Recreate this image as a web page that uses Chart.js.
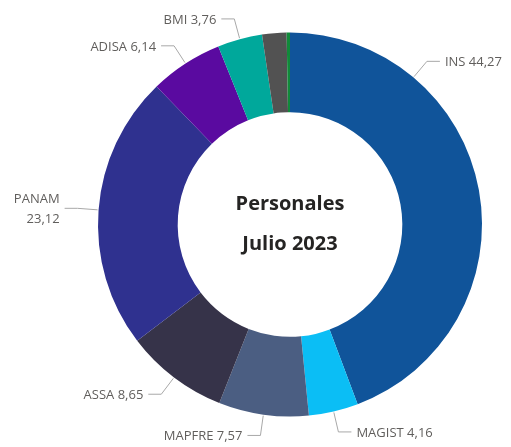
<!DOCTYPE html>
<html>
<head>
<meta charset="utf-8">
<script src="https://cdn.jsdelivr.net/npm/chart.js@4/dist/chart.umd.min.js"></script>
<style>
  html, body { margin: 0; padding: 0; background: #ffffff; }
  #wrap { width: 511px; height: 447px; }
</style>
</head>
<body>
<div id="wrap"><canvas id="personales-chart" width="511" height="447"></canvas></div>
<script>
// Datos (porcentaje por aseguradora)
const categories = ["INS", "MAGIST", "MAPFRE", "ASSA", "PANAM", "ADISA", "BMI", "Otros", "Otros 2"];
const shares = [44.27, 4.16, 7.57, 8.65, 23.12, 6.14, 3.76, 2.05, 0.28];
const showLabel = [true, true, true, true, true, true, true, false, false];
const sliceColors = ["#10549a", "#0bbef5", "#4b5e82", "#363349", "#2f318f", "#5a0aa0", "#00a89b", "#525252", "#118a3a"];
const centerLines = ["Personales", "Julio 2023"];

// INS se etiqueta mas arriba para que el texto quepa (grados desde arriba)
const labelAngleOverride = { 0: 40 };

function formatValue(v) {
    return v.toFixed(2).replace(".", ",");
}

// Etiquetas con linea guia, al estilo Power BI
const leaderLabels = {
    id: "leaderLabels",
    afterDatasetsDraw(chart) {
        const ctx = chart.ctx;
        const meta = chart.getDatasetMeta(0);
        ctx.save();
        ctx.font = "13px 'Open Sans'";
        ctx.lineWidth = 1;
        ctx.strokeStyle = "#a8a8a8";
        ctx.fillStyle = "#605e5c";
        ctx.textBaseline = "middle";

        meta.data.forEach((arc, i) => {
            if(!showLabel[i]) return;
            const p = arc.getProps(["x", "y", "startAngle", "endAngle", "outerRadius"], true);
            let angle = (p.startAngle + p.endAngle) / 2;
            if(labelAngleOverride[i] !== undefined) {
                angle = labelAngleOverride[i] * Math.PI / 180 - Math.PI / 2;
            }
            const cos = Math.cos(angle), sin = Math.sin(angle);
            const sx = p.x + cos * (p.outerRadius + 1);
            const sy = p.y + sin * (p.outerRadius + 1);
            const ex = p.x + cos * (p.outerRadius + 21);
            const ey = p.y + sin * (p.outerRadius + 21);
            const right = cos >= 0;
            const hx = ex + (right ? 13 : -13);

            ctx.beginPath();
            ctx.moveTo(sx, sy);
            ctx.lineTo(ex, ey);
            ctx.lineTo(hx, ey);
            ctx.stroke();

            const tx = hx + (right ? 5 : -5);
            ctx.textAlign = right ? "left" : "right";
            const text = categories[i] + " " + formatValue(shares[i]);
            const w = ctx.measureText(text).width;
            const fits = right ? (tx + w < chart.width - 2) : (tx - w > 2);
            if(fits) {
                ctx.fillText(text, tx, ey + 1);
            } else {
                ctx.fillText(categories[i], tx, ey - 9);
                ctx.fillText(formatValue(shares[i]), tx, ey + 11);
            }
        });
        ctx.restore();
    }
};

// Texto central
const centerText = {
    id: "centerText",
    afterDatasetsDraw(chart) {
        const ctx = chart.ctx;
        const arc = chart.getDatasetMeta(0).data[0];
        ctx.save();
        ctx.font = "bold 20px 'Open Sans'";
        ctx.fillStyle = "#252423";
        ctx.textAlign = "center";
        ctx.textBaseline = "middle";
        ctx.fillText(centerLines[0], arc.x, arc.y - 20);
        ctx.fillText(centerLines[1], arc.x, arc.y + 20);
        ctx.restore();
    }
};

const canvas = document.getElementById("personales-chart");
new Chart(canvas, {
    type: "doughnut",
    data: {
        labels: categories,
        datasets: [{
            data: shares,
            backgroundColor: sliceColors,
            borderWidth: 0
        }]
    },
    options: {
        responsive: false,
        animation: false,
        cutout: "58.5%",
        layout: {
            padding: { left: 98, right: 29, top: 32, bottom: 30 }
        },
        plugins: {
            legend: { display: false },
            tooltip: { enabled: false }
        }
    },
    plugins: [leaderLabels, centerText]
});
</script>
</body>
</html>
